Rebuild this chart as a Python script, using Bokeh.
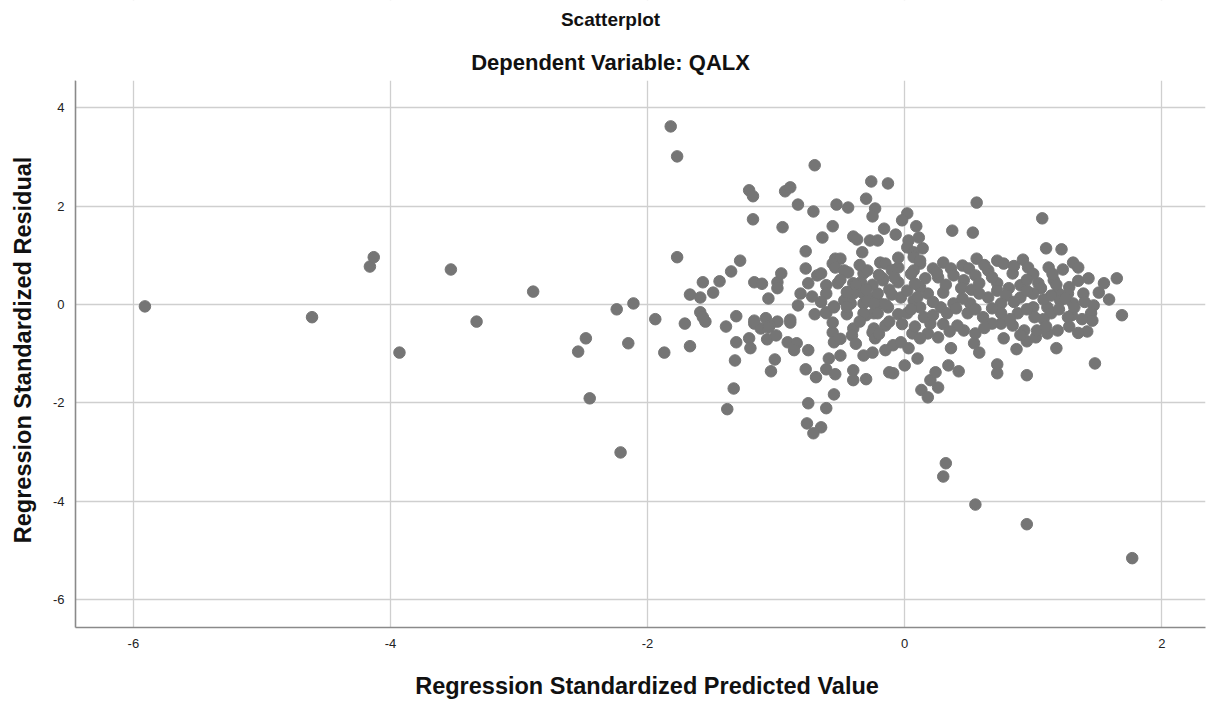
from bokeh.plotting import figure
from bokeh.models import Range1d, FixedTicker, Label, BoxAnnotation
from bokeh.embed import file_html
from bokeh.resources import INLINE

# Regression standardized predicted value (x) and standardized residual (y)
pred = [
    -5.91, -4.61, -4.16, -4.13, -3.93, -3.53, -3.33, -2.89, -2.54, -2.48, -2.45, -2.24,
    -2.11, -2.15, -2.21, -1.94, -1.87, -1.82, -1.77, -1.77, -1.71, -1.67, -1.67,
    -0.70, -1.21, -1.18, -0.93, -0.89, -0.26, -0.13, -0.83, -0.71, -0.53, -0.44, -0.30,
    -0.23, -0.25, -1.18, -0.95, -0.56, -0.64, -0.40, -0.37, -0.27, -0.21, -0.16, -0.33, -0.77,
    0.02, -0.02, -0.07, 0.09, 0.11, 0.03, 0.02, 0.14, 0.07,
    0.56, 1.07, 0.37, 0.53,
    1.10, 1.22, 1.12, 1.23, 1.31, 1.35, 1.43, 1.55, 1.65, 1.59, 1.51, 1.39, 1.47, 1.69,
    1.16, 1.28, 1.27, 1.19, 1.31,
    0.56, 0.72, 0.77, 0.92, 0.96, 0.30, 0.12, 0.22, 0.36, 0.45, 0.50, 0.65, 0.84, 1.04,
    1.06, 0.72, 0.81, 0.90, 0.16, 0.26, 0.38, 0.46, 0.55, 0.58, 0.44, 0.30, 0.18, 0.65,
    0.79, 0.90, 1.00, 1.14, 1.21, 0.75, 0.51, 0.38, 0.28, 1.00, 1.11, 1.45, 1.30,
    0.26, 0.20, 0.24, 0.34, 0.42, 0.72, 0.72, 0.95, 1.48, 0.36, 0.58, 0.54, 0.77, 0.87,
    0.95, 1.18, 1.42, 1.46, 1.28, 1.19, 1.11, 1.02, 1.03, 0.93, 0.84, 0.75, 0.68, 0.55,
    0.46, 0.41, 0.26, 0.18, 0.20, 0.15, 0.33, 0.49, 0.61, 0.75, 0.88, 1.01, 1.14, 1.27, 1.32,
    -0.09, 0.00, 0.10, 0.13, 0.18, -0.24, -0.09, -0.03, 0.06, 0.12, 0.03,
    0.32, 0.30, 0.55, 0.95, 1.77,
    -1.28, -1.35, -1.44, -1.57, -1.49, -1.59, -1.17, -1.11, -0.99, -0.99, -0.96, -1.06,
    -0.77, -0.75, -0.68, -0.65, -0.81, -0.72, -0.61, -0.61, -0.52, -0.54, -0.50, -0.56,
    -0.54, -0.47, -0.44, -0.32, -0.29, -0.19, -0.15, -0.17, -0.40, -0.34, -0.38, -0.47,
    -0.42, -0.32, -0.24, -0.19, -0.55, -0.61, -0.83, -1.59, -1.55, -1.39, -1.31, -1.17,
    -1.08, -0.99, -0.89, -0.56, -0.40,
    -1.31, -1.32, -1.33, -1.38, -1.21, -1.20, -1.12, -1.05, -1.07, -1.00, -0.91, -0.84,
    -0.86, -0.75, -1.01, -1.04, -0.77, -0.69, -0.61, -0.54, -0.75, -0.61, -0.55, -0.76,
    -0.65, -0.71, -0.56, -0.55, -0.59, -0.50, -0.41, -0.32, -0.25, -0.40, -0.40, -0.30,
    -0.15, -0.25, -0.23, -0.30, -0.24, -0.15, -0.12, -1.06, -0.61, -0.55,
    -0.05, -0.17, -0.05, 0.07, 0.12, 0.07, -0.38, -0.33, -0.40, -0.29, -0.21, -0.24,
    -0.13, -0.03, 0.02, 0.07, 0.12, 0.12, -0.32, -0.21, 0.02, -1.57, -1.17, -0.89,
    0.05, 0.25, 0.62, 0.85, 1.00, 1.15,
    0.08, 0.32, 0.52, 0.68, 0.95, 1.18, 1.35,
    0.10, 0.22, 0.45, 0.58, 0.72, 0.85, 0.95, 1.08, 1.25, 1.40,
    0.05, 0.22, 0.40, 0.55, 0.68, 0.82, 0.95, 1.08, 1.20, 1.38,
    0.08, 0.30, 0.35, 0.62, 0.90, 1.10, 1.35,
    -0.10, -0.05, -0.25, -0.12, -0.08, -0.30, -0.45, -0.50, -0.35, -0.20, -0.05, -0.12,
    -0.20, -0.35, -0.45, -0.50, -0.38, -0.02, -0.15, -0.10, -0.65, -0.70, -0.45,
]
resid = [
    -0.04, -0.26, 0.77, 0.96, -0.98, 0.71, -0.35, 0.26, -0.96, -0.69, -1.91, -0.10,
    0.02, -0.79, -3.01, -0.30, -0.98, 3.62, 3.01, 0.96, -0.39, -0.85, 0.20,
    2.83, 2.32, 2.20, 2.30, 2.38, 2.50, 2.46, 2.03, 1.89, 2.03, 1.97, 2.15,
    1.95, 1.79, 1.73, 1.57, 1.59, 1.36, 1.38, 1.32, 1.30, 1.30, 1.54, 1.06, 1.08,
    1.85, 1.71, 1.42, 1.59, 1.36, 1.30, 1.16, 1.14, 1.06,
    2.07, 1.75, 1.50, 1.46,
    1.14, 1.12, 0.75, 0.71, 0.85, 0.75, 0.53, 0.43, 0.53, 0.10, 0.24, 0.22, -0.02, -0.22,
    0.49, 0.35, 0.22, 0.24, 0.02,
    0.93, 0.89, 0.83, 0.91, 0.75, 0.85, 0.83, 0.73, 0.73, 0.79, 0.73, 0.69, 0.63, 0.43,
    0.33, 0.43, 0.33, 0.39, 0.53, 0.55, 0.59, 0.49, 0.59, 0.43, 0.33, 0.24, 0.22, 0.14,
    0.18, 0.14, 0.22, 0.18, 0.08, 0.02, 0.02, 0.02, -0.06, -0.06, -0.06, -0.18, -0.22,
    -1.69, -1.54, -1.38, -1.24, -1.36, -1.22, -1.40, -1.44, -1.20, -0.89, -0.98, -0.79, -0.69, -0.91,
    -0.75, -0.89, -0.55, -0.33, -0.45, -0.53, -0.59, -0.67, -0.53, -0.53, -0.43, -0.39, -0.39, -0.59,
    -0.53, -0.43, -0.67, -0.59, -0.39, -0.26, -0.18, -0.18, -0.26, -0.18, -0.18, -0.26, -0.18, -0.26, -0.06,
    -1.40, -1.24, -1.10, -1.74, -1.89, -0.49, -0.83, -0.77, -0.59, -0.69, -0.89,
    -3.23, -3.50, -4.07, -4.47, -5.16,
    0.89, 0.67, 0.47, 0.45, 0.24, 0.14, 0.45, 0.42, 0.45, 0.33, 0.63, 0.12,
    0.73, 0.43, 0.59, 0.63, 0.22, 0.16, 0.39, 0.22, 0.43, 0.93, 0.93, 0.83,
    0.75, 0.69, 0.65, 0.63, 0.69, 0.85, 0.83, 0.49, 0.43, 0.45, 0.28, 0.08,
    0.02, 0.02, 0.14, 0.02, -0.04, -0.16, -0.02, -0.16, -0.35, -0.45, -0.24, -0.39,
    -0.28, -0.35, -0.37, -0.37, -0.49,
    -0.77, -1.14, -1.71, -2.13, -0.69, -0.89, -0.49, -0.43, -0.71, -0.63, -0.77, -0.79,
    -0.93, -0.93, -1.12, -1.36, -1.32, -1.48, -1.32, -1.42, -2.01, -2.11, -1.83, -2.42,
    -2.50, -2.62, -0.57, -0.77, -1.10, -1.04, -0.63, -1.04, -0.98, -1.34, -1.54, -1.52,
    -0.93, -0.57, -0.69, -0.22, -0.18, -0.43, -1.38, -0.47, -0.18, -0.06,
    0.75, 0.53, 0.45, 0.96, 0.89, 0.69, 0.39, 0.24, 0.22, 0.08, 0.22, 0.02,
    -0.06, 0.14, 0.28, 0.08, -0.06, 0.35, -0.18, -0.18, -0.18, -0.26, -0.33, -0.31,
    0.62, 0.65, 0.80, 0.78, 0.62, 0.62,
    0.42, 0.40, 0.30, 0.55, 0.50, 0.40, 0.48,
    0.15, 0.05, 0.12, 0.22, 0.28, 0.05, 0.28, 0.10, 0.12, 0.05,
    -0.10, -0.22, -0.08, -0.10, -0.08, -0.30, -0.10, -0.30, -0.10, -0.30,
    -0.45, -0.40, -0.55, -0.48, -0.62, -0.45, -0.58,
    0.70, 0.95, 0.40, 0.30, 0.55, 0.30, 0.25, 0.50, 0.80, 0.60, -0.20, -0.35,
    -0.60, -0.35, -0.20, -0.70, -0.80, -0.40, 0.00, 0.20, 0.05, -0.20, -0.05,
]

x_ticks = [-6, -4, -2, 0, 2]
y_ticks = [-6, -4, -2, 0, 2, 4]
title_text = "Scatterplot"
subtitle_text = "Dependent Variable: QALX"
x_label = "Regression Standardized Predicted Value"
y_label = "Regression Standardized Residual"

FONT = "Liberation Sans"
X0, X1 = -6.45, 2.34      # visible x extent
Y0, Y1 = -6.57, 4.55      # visible y extent of the plotting area
Y_TOP = 6.18              # extra headroom (title area) inside the frame

p = figure(
    width=1221, height=704, output_backend="svg", toolbar_location=None,
    x_range=Range1d(X0, X1), y_range=Range1d(Y0, Y_TOP),
    min_border_left=75, min_border_right=16, min_border_top=0, min_border_bottom=77,
    background_fill_color="white", border_fill_color="white",
)
p.outline_line_color = None

p.scatter(pred, resid, size=11.5, color="#757575", line_color="#757575")

# white band hides the grid in the title area above the plotting region
p.add_layout(BoxAnnotation(bottom=Y1, fill_color="white", fill_alpha=1.0, line_color=None))

p.add_layout(Label(x=-2.288, y=5.80, text=title_text,
                   text_align="center", text_baseline="middle",
                   text_font=FONT, text_font_size="19px", text_font_style="bold",
                   text_color="#111111"))
p.add_layout(Label(x=-2.288, y=4.91, text=subtitle_text,
                   text_align="center", text_baseline="middle",
                   text_font=FONT, text_font_size="22px", text_font_style="bold",
                   text_color="#111111"))

for ax in (p.xaxis[0], p.yaxis[0]):
    ax.major_tick_in = 0
    ax.major_tick_out = 0
    ax.minor_tick_line_color = None
    ax.axis_line_color = "#8a8a8a"
    ax.axis_line_width = 1.6
    ax.major_label_text_font = FONT
    ax.major_label_text_font_size = "13px"
    ax.major_label_text_color = "#222222"
    ax.axis_label_text_font = FONT
    ax.axis_label_text_font_size = "23.5px"
    ax.axis_label_text_font_style = "bold"
    ax.axis_label_text_color = "#111111"

p.yaxis.bounds = (Y0, Y1)
p.xaxis.ticker = FixedTicker(ticks=x_ticks)
p.yaxis.ticker = FixedTicker(ticks=y_ticks)
p.xaxis.major_label_overrides = {t: str(t) for t in x_ticks}
p.yaxis.major_label_overrides = {t: str(t) for t in y_ticks}
p.xaxis.axis_label = "\u00a0" * 2 + x_label
# trailing non-breaking spaces centre the rotated label on the plotting area
p.yaxis.axis_label = y_label + "\u00a0" * 11
p.xaxis.major_label_standoff = 11
p.yaxis.major_label_standoff = 11
p.xaxis.axis_label_standoff = 22
p.yaxis.axis_label_standoff = 14

p.xgrid.ticker = FixedTicker(ticks=x_ticks)
p.ygrid.ticker = FixedTicker(ticks=y_ticks)
p.grid.grid_line_color = "#cfcfcf"
p.grid.grid_line_width = 1.3

open("out.html", "w").write(file_html(p, INLINE))
